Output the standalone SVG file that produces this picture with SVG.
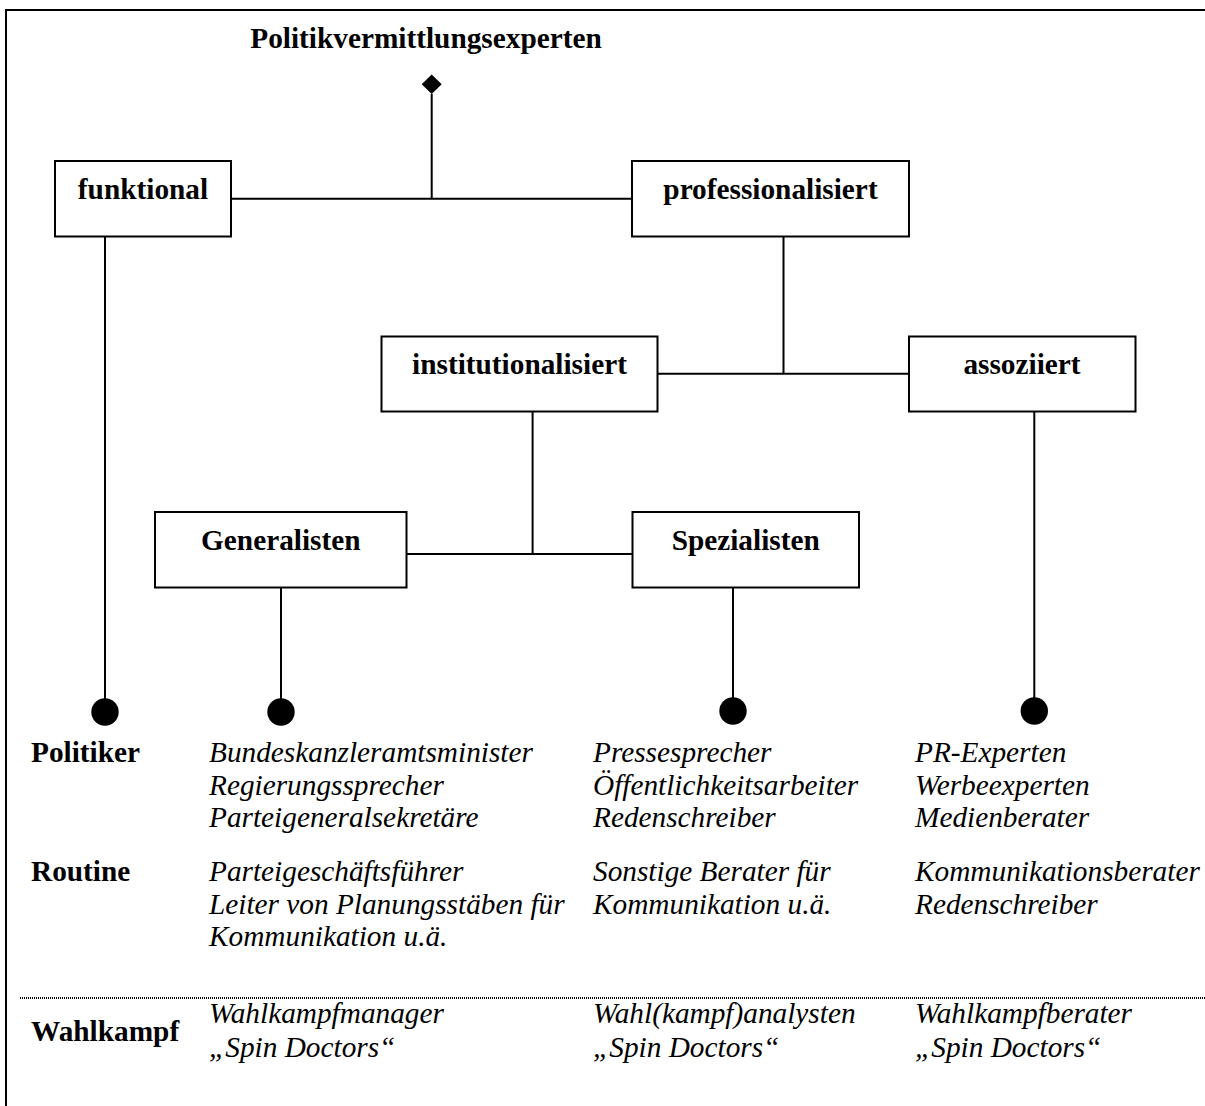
<svg xmlns="http://www.w3.org/2000/svg" width="1205" height="1106" viewBox="0 0 1205 1106">
<style>
.box{fill:#fff;stroke:#000;stroke-width:2}
.ln{stroke:#000;stroke-width:2;fill:none}
.b{font-family:"Liberation Serif","Times New Roman",serif;font-weight:bold;font-size:29.3px;fill:#000}
.i{font-family:"Liberation Serif","Times New Roman",serif;font-style:italic;font-size:29.3px;fill:#000}
.c{text-anchor:middle}
</style>
<rect width="1205" height="1106" fill="#fff"/>
<g id="frame">
<path d="M6,1106 V10 H1205" class="ln" stroke-width="2.5"/>
<line x1="20" y1="998" x2="1205" y2="998" stroke="#000" stroke-width="2" stroke-dasharray="1 1"/>
</g>
<g id="connectors">
<path class="ln" d="M431.7,94 V198.7 M231,198.7 H632"/>
<polygon points="431.7,74.5 441.7,84.3 431.7,94 421.7,84.3" fill="#000"/>
<path class="ln" d="M783.5,236.5 V373.7 M657.5,373.7 H909"/>
<path class="ln" d="M532.6,411.5 V554 M406.5,554 H632.5"/>
<path class="ln" d="M105,236.5 V700"/>
<path class="ln" d="M281,587.5 V700"/>
<path class="ln" d="M733,587.5 V700"/>
<path class="ln" d="M1034.3,411.5 V700"/>
<circle cx="105" cy="712" r="13.7"/>
<circle cx="281" cy="712" r="13.7"/>
<circle cx="733" cy="711" r="13.7"/>
<circle cx="1034.3" cy="711" r="13.7"/>
</g>
<g id="title"><text class="b c" x="426" y="48">Politikvermittlungsexperten</text></g>
<g id="funktional"><rect class="box" x="55" y="161" width="176" height="75.5"/><text class="b c" x="143" y="199">funktional</text></g>
<g id="professionalisiert"><rect class="box" x="632" y="161" width="277" height="75.5"/><text class="b c" x="770.5" y="199">professionalisiert</text></g>
<g id="institutionalisiert"><rect class="box" x="381.5" y="336.5" width="276" height="75"/><text class="b c" x="519.5" y="374">institutionalisiert</text></g>
<g id="assoziiert"><rect class="box" x="909" y="336.5" width="226.5" height="75"/><text class="b c" x="1022" y="374">assoziiert</text></g>
<g id="generalisten"><rect class="box" x="155" y="512" width="251.5" height="75.5"/><text class="b c" x="280.8" y="550">Generalisten</text></g>
<g id="spezialisten"><rect class="box" x="632.5" y="512" width="226.5" height="75.5"/><text class="b c" x="745.7" y="550">Spezialisten</text></g>
<g id="table">
<text class="b" x="31" y="762">Politiker</text>
<text class="b" x="31" y="881">Routine</text>
<text class="b" x="31" y="1041">Wahlkampf</text>
<text class="i" x="209"><tspan x="209" y="762">Bundeskanzleramtsminister</tspan><tspan x="209" y="794.5">Regierungssprecher</tspan><tspan x="209" y="827">Parteigeneralsekretäre</tspan></text>
<text class="i" x="209"><tspan x="209" y="881">Parteigeschäftsführer</tspan><tspan x="209" y="913.5">Leiter von Planungsstäben für</tspan><tspan x="209" y="946">Kommunikation u.ä.</tspan></text>
<text class="i" x="209"><tspan x="209" y="1023">Wahlkampfmanager</tspan><tspan x="209" y="1057">„Spin Doctors“</tspan></text>
<text class="i" x="593"><tspan x="593" y="762">Pressesprecher</tspan><tspan x="593" y="794.5">Öffentlichkeitsarbeiter</tspan><tspan x="593" y="827">Redenschreiber</tspan></text>
<text class="i" x="593"><tspan x="593" y="881">Sonstige Berater für</tspan><tspan x="593" y="913.5">Kommunikation u.ä.</tspan></text>
<text class="i" x="593"><tspan x="593" y="1023">Wahl(kampf)analysten</tspan><tspan x="593" y="1057">„Spin Doctors“</tspan></text>
<text class="i" x="915"><tspan x="915" y="762">PR-Experten</tspan><tspan x="915" y="794.5">Werbeexperten</tspan><tspan x="915" y="827">Medienberater</tspan></text>
<text class="i" x="915"><tspan x="915" y="881">Kommunikationsberater</tspan><tspan x="915" y="913.5">Redenschreiber</tspan></text>
<text class="i" x="915"><tspan x="915" y="1023">Wahlkampfberater</tspan><tspan x="915" y="1057">„Spin Doctors“</tspan></text>
</g>
</svg>
